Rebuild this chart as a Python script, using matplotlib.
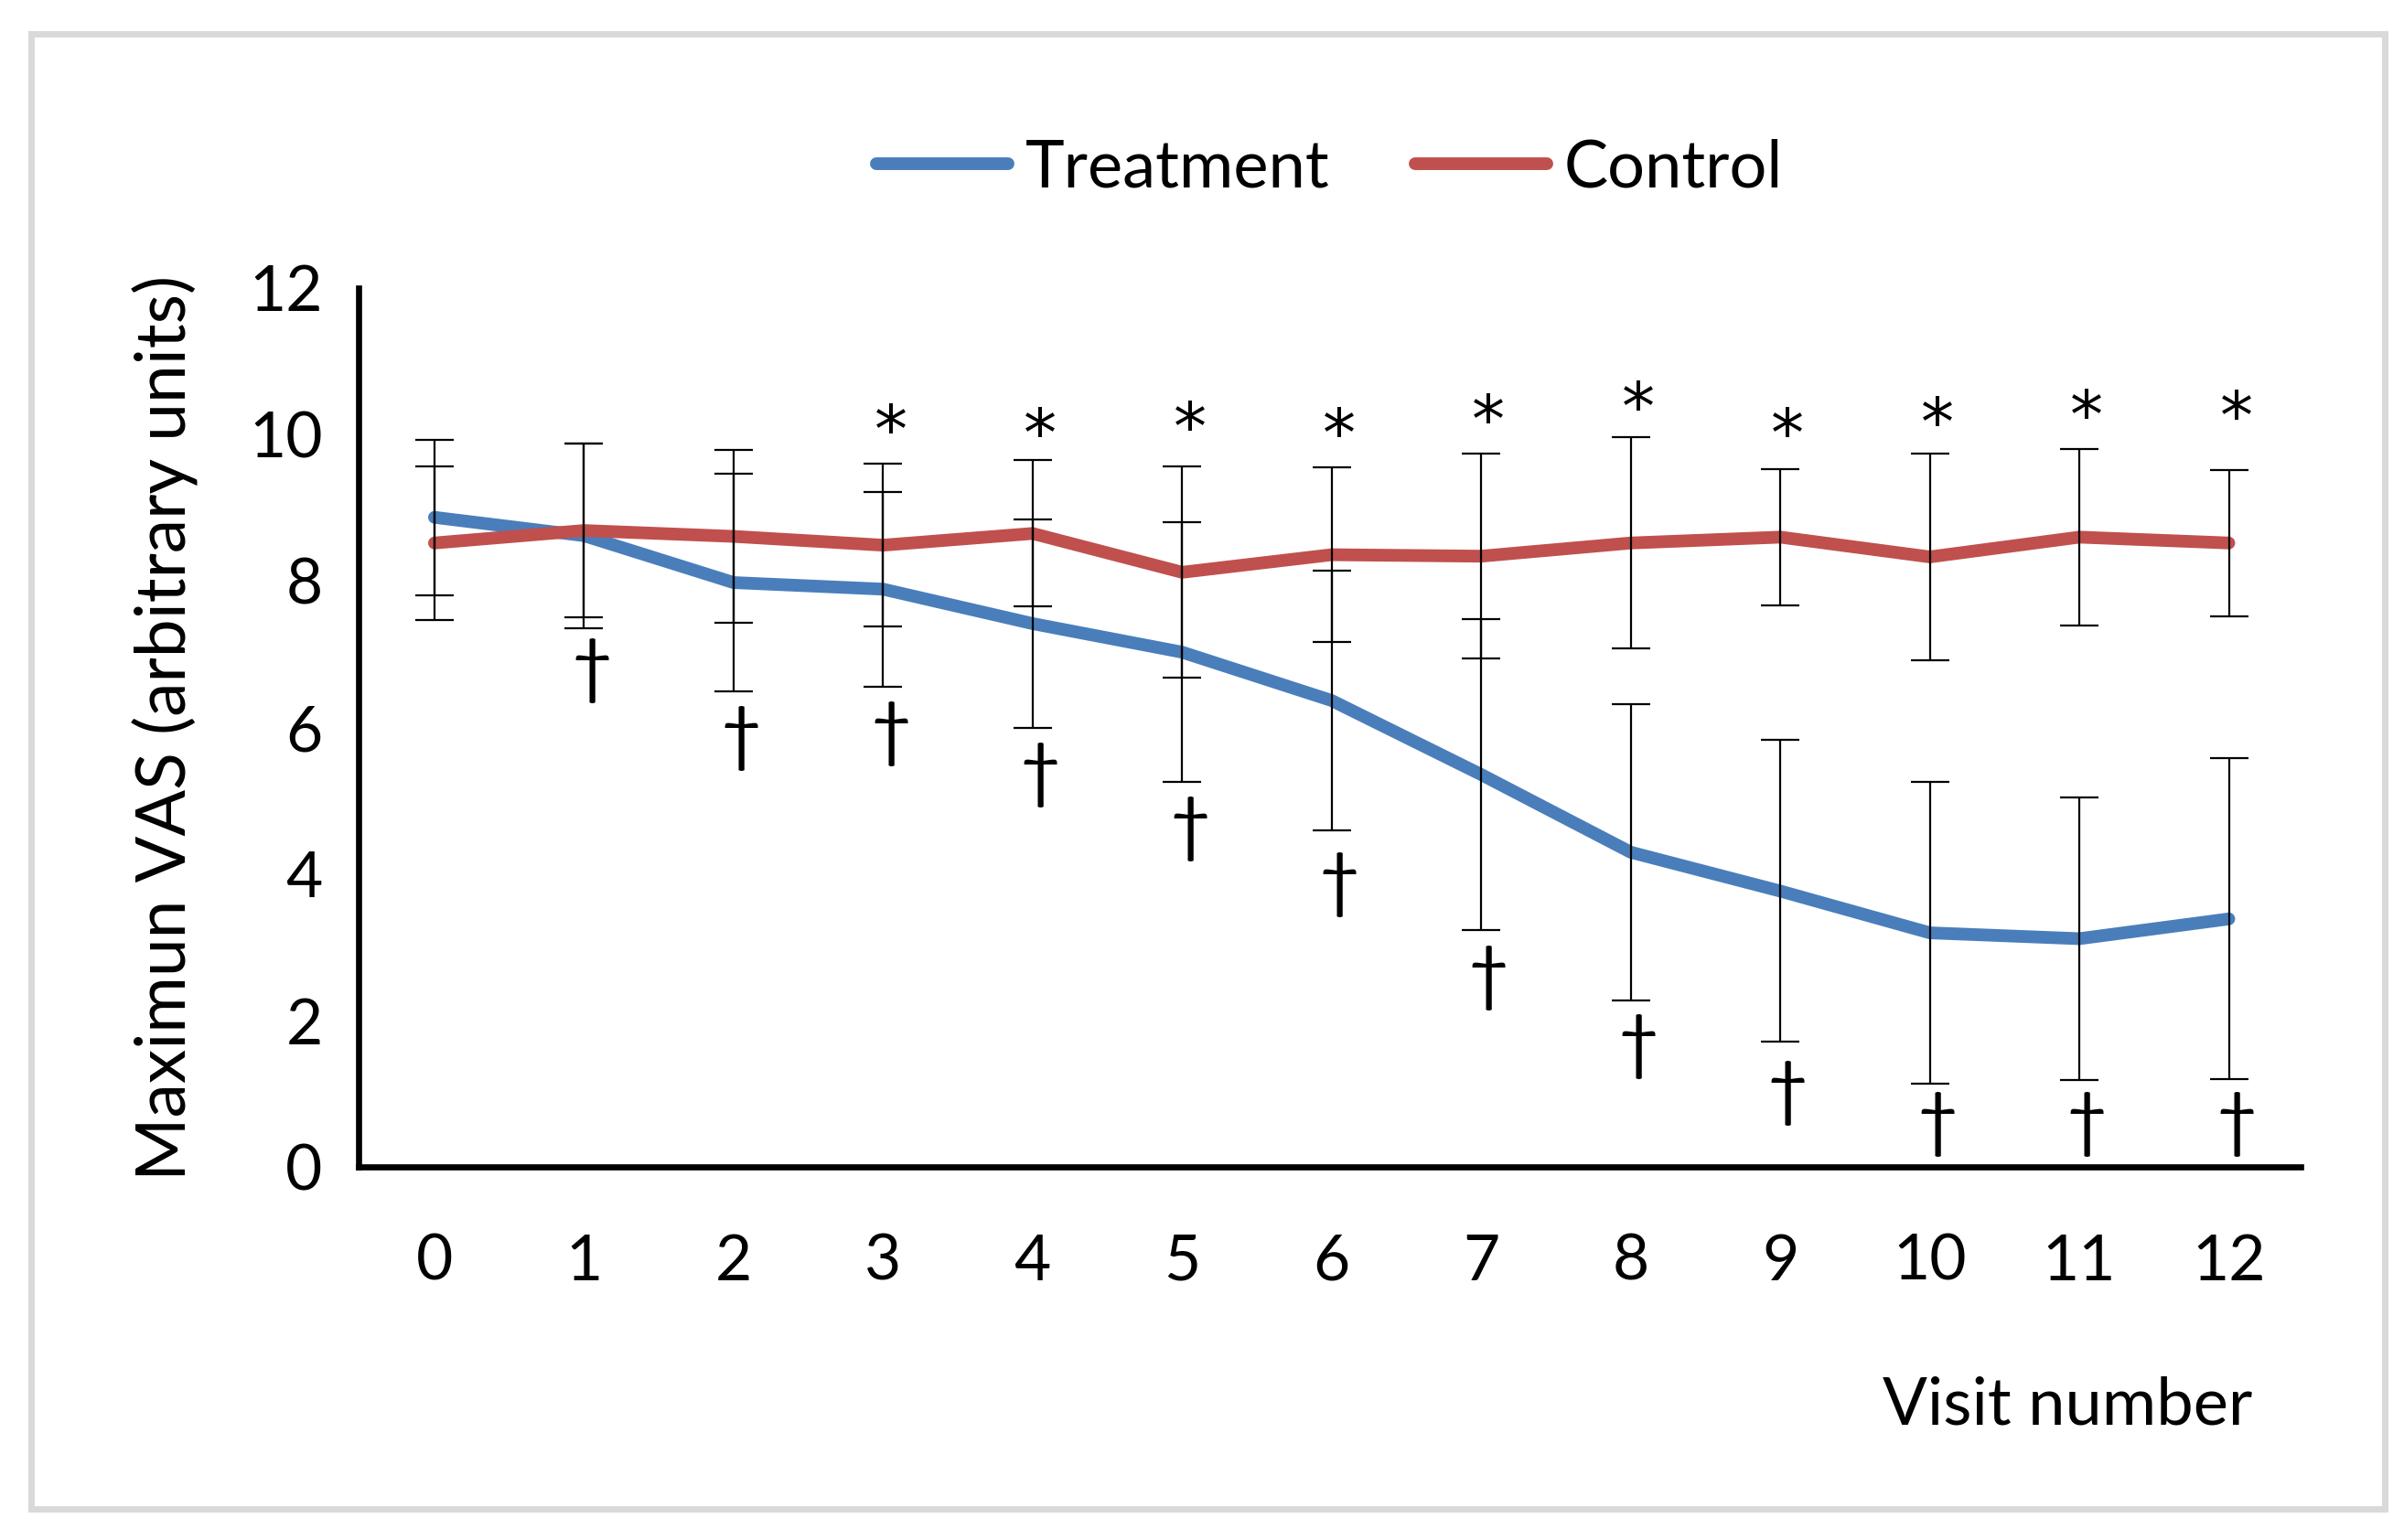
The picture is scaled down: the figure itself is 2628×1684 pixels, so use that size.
import matplotlib
matplotlib.use("Agg")
import matplotlib.pyplot as plt
from matplotlib.patches import Rectangle

# values
visits = list(range(13))
treatment_mean = [8.87, 8.62, 7.98, 7.89, 7.42, 7.03, 6.37, 5.36, 4.30, 3.77, 3.20, 3.12, 3.39]
treatment_sd = [1.06, 1.26, 1.49, 1.33, 1.42, 1.77, 1.77, 2.12, 2.02, 2.06, 2.06, 1.93, 2.19]
control_mean = [8.52, 8.69, 8.61, 8.49, 8.65, 8.12, 8.36, 8.34, 8.52, 8.60, 8.33, 8.60, 8.52]
control_sd = [1.05, 1.19, 1.18, 1.11, 1.00, 1.44, 1.19, 1.40, 1.44, 0.93, 1.41, 1.20, 1.00]

# significance markers
star_visits = [3, 4, 5, 6, 7, 8, 9, 10, 11, 12]
star_y = [10.13, 10.08, 10.16, 10.08, 10.26, 10.44, 10.08, 10.23, 10.33, 10.31]
dagger_visits = [1, 2, 3, 4, 5, 6, 7, 8, 9, 10, 11, 12]
dagger_y = [6.77, 5.85, 5.91, 5.35, 4.62, 3.86, 2.58, 1.65, 1.01, 0.58, 0.58, 0.58]

BLUE = "#4A7EBB"
RED = "#C0504D"
FONT = ["Lato", "DejaVu Sans"]

plt.rcParams["font.family"] = FONT

fig = plt.figure(figsize=(13.14, 8.42), dpi=200)
ax = fig.add_axes([0.149, 0.242, 0.808, 0.571])

# light grey frame around the whole picture
fig.patches.append(Rectangle((0.013, 0.020), 0.979, 0.958, transform=fig.transFigure,
                             fill=False, edgecolor="#d9d9d9", lw=2.5))

ax.errorbar(visits, treatment_mean, yerr=treatment_sd, fmt="none", ecolor="black",
            elinewidth=0.8, capsize=7.5, capthick=0.8, zorder=3)
ax.errorbar(visits, control_mean, yerr=control_sd, fmt="none", ecolor="black",
            elinewidth=0.8, capsize=7.5, capthick=0.8, zorder=3)
ax.plot(visits, treatment_mean, color=BLUE, lw=5, label="Treatment",
        solid_capstyle="round", solid_joinstyle="round", zorder=2)
ax.plot(visits, control_mean, color=RED, lw=5, label="Control",
        solid_capstyle="round", solid_joinstyle="round", zorder=2)

for v, y in zip(star_visits, star_y):
    ax.text(v + 0.05, y - 0.12, "*", ha="center", va="center", fontsize=26,
            family=["DejaVu Sans"])
for v, y in zip(dagger_visits, dagger_y):
    ax.text(v + 0.05, y, "\u2020", ha="center", va="center", fontsize=28, family=FONT)

ax.set_xlim(-0.51, 12.48)
ax.set_ylim(0, 12)
ax.set_yticks(range(0, 13, 2))
ax.set_xticks(visits)
ax.tick_params(length=0, labelsize=25, pad=14)
ax.tick_params(axis="x", pad=26)
for side in ["top", "right"]:
    ax.spines[side].set_visible(False)
for side in ["left", "bottom"]:
    ax.spines[side].set_linewidth(2.4)

ax.set_ylabel("Maximun VAS (arbitrary units)", fontsize=27, labelpad=20)
fig.text(0.937, 0.087, "Visit number", ha="right", va="center", fontsize=26)

ax.legend(loc="lower center", bbox_to_anchor=(0.5, 1.035), ncol=2, frameon=False,
          fontsize=26, handlelength=2.0, handletextpad=0.25, columnspacing=1.3)

fig.savefig("out.png", dpi=200, facecolor="white")
